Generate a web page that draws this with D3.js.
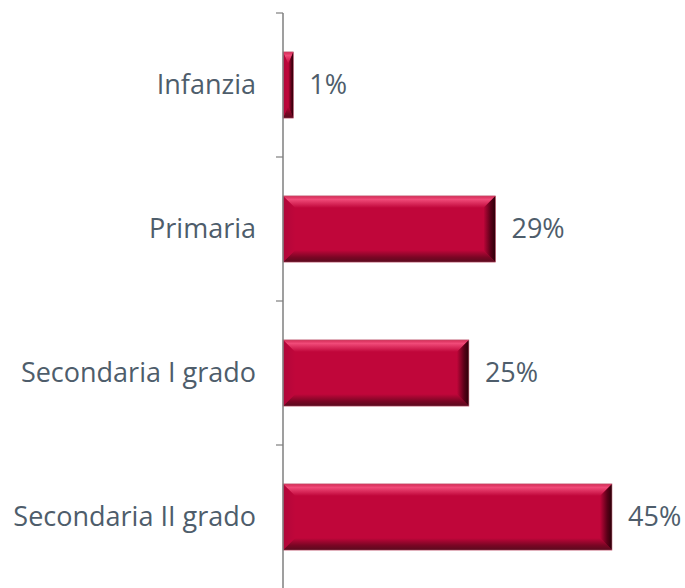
<!DOCTYPE html>
<html>
<head>
<meta charset="utf-8">
<script src="https://cdn.jsdelivr.net/npm/d3@7"></script>
<style>
  body { margin: 0; background: #fff; }
  text { font-family: "Open Sans", "Noto Sans", sans-serif; }
</style>
</head>
<body>
<svg id="chart" width="685" height="588"></svg>
<script>
// data
const categories = ["Infanzia", "Primaria", "Secondaria I grado", "Secondaria II grado"];
const values = [1.4, 28.8, 25.2, 44.6];
const labels = ["1%", "29%", "25%", "45%"];

const svg = d3.select("#chart");
const margin = {top: 13, left: 283};
const bandH = 144;

const x = d3.scaleLinear().domain([0, 44.6]).range([margin.left, margin.left + 329]);
const y = d3.scaleBand()
  .domain(categories)
  .range([margin.top, margin.top + bandH * categories.length])
  .paddingInner(0.54).paddingOuter(0.27);

// gradients for the bevel
const defs = svg.append("defs");
function grad(id, x1, y1, x2, y2, stops) {
  const g = defs.append("linearGradient").attr("id", id)
    .attr("x1", x1).attr("y1", y1).attr("x2", x2).attr("y2", y2);
  stops.forEach(s => g.append("stop").attr("offset", s[0]).attr("stop-color", s[1]));
}
const base = "#c0063a";
grad("gTop", 0, 0, 0, 1, [[0, "#d22a55"], [0.3, "#f04a78"], [1, base]]);
grad("gBot", 0, 0, 0, 1, [[0, base], [0.6, "#7a0624"], [1, "#5a0a1e"]]);
grad("gRight", 0, 0, 1, 0, [[0, base], [0.6, "#5a0018"], [1, "#2a0008"]]);
grad("gLeft", 0, 0, 1, 0, [[0, "#b0063a"], [1, base]]);

const bev = 12;
const bars = svg.selectAll(".bar")
  .data(categories.map((c, i) => ({c, v: values[i], l: labels[i]})))
  .enter().append("g").attr("class", "bar");

bars.each(function(d) {
  const g = d3.select(this);
  const x0 = x(0), x1 = x(d.v), y0 = y(d.c), y1 = y0 + y.bandwidth();
  const b = Math.min(bev, (x1 - x0) / 2);
  g.append("rect").attr("x", x0).attr("y", y0).attr("width", x1 - x0).attr("height", y1 - y0).attr("fill", base);
  const poly = pts => pts.map(p => p.join(",")).join(" ");
  g.append("polygon").attr("fill", "url(#gTop)")
    .attr("points", poly([[x0, y0], [x1, y0], [x1 - b, y0 + bev], [x0 + b, y0 + bev]]));
  g.append("polygon").attr("fill", "url(#gBot)")
    .attr("points", poly([[x0 + b, y1 - bev], [x1 - b, y1 - bev], [x1, y1], [x0, y1]]));
  g.append("polygon").attr("fill", "url(#gLeft)")
    .attr("points", poly([[x0, y0], [x0 + b, y0 + bev], [x0 + b, y1 - bev], [x0, y1]]));
  g.append("polygon").attr("fill", "url(#gRight)")
    .attr("points", poly([[x1 - b, y0 + bev], [x1, y0], [x1, y1], [x1 - b, y1 - bev]]));
  g.append("rect").attr("x", x0).attr("y", y0).attr("width", x1 - x0).attr("height", y1 - y0)
    .attr("fill", "none").attr("stroke", "#c07080").attr("stroke-width", 0.6);
});

// value labels
bars.append("text")
  .attr("x", d => x(d.v) + 16)
  .attr("y", d => y(d.c) + y.bandwidth() / 2)
  .attr("dy", "0.35em")
  .style("font-size", "27px")
  .attr("fill", "#4e5d6b")
  .text(d => d.l);

// axis line and ticks
const tickYs = d3.range(categories.length + 1).map(i => margin.top + i * bandH);
svg.append("line")
  .attr("x1", margin.left).attr("x2", margin.left)
  .attr("y1", margin.top).attr("y2", 588)
  .attr("stroke", "#7f7f7f").attr("stroke-width", 1.5);
svg.selectAll(".tick").data(tickYs).enter().append("line")
  .attr("x1", margin.left - 7).attr("x2", margin.left)
  .attr("y1", d => d).attr("y2", d => d)
  .attr("stroke", "#7f7f7f").attr("stroke-width", 1.2);

// category labels
svg.selectAll(".cat").data(categories).enter().append("text")
  .attr("x", margin.left - 27)
  .attr("y", d => y(d) + y.bandwidth() / 2)
  .attr("dy", "0.35em")
  .attr("text-anchor", "end")
  .style("font-size", "27px")
  .attr("fill", "#4e5d6b")
  .text(d => d);
</script>
</body>
</html>
